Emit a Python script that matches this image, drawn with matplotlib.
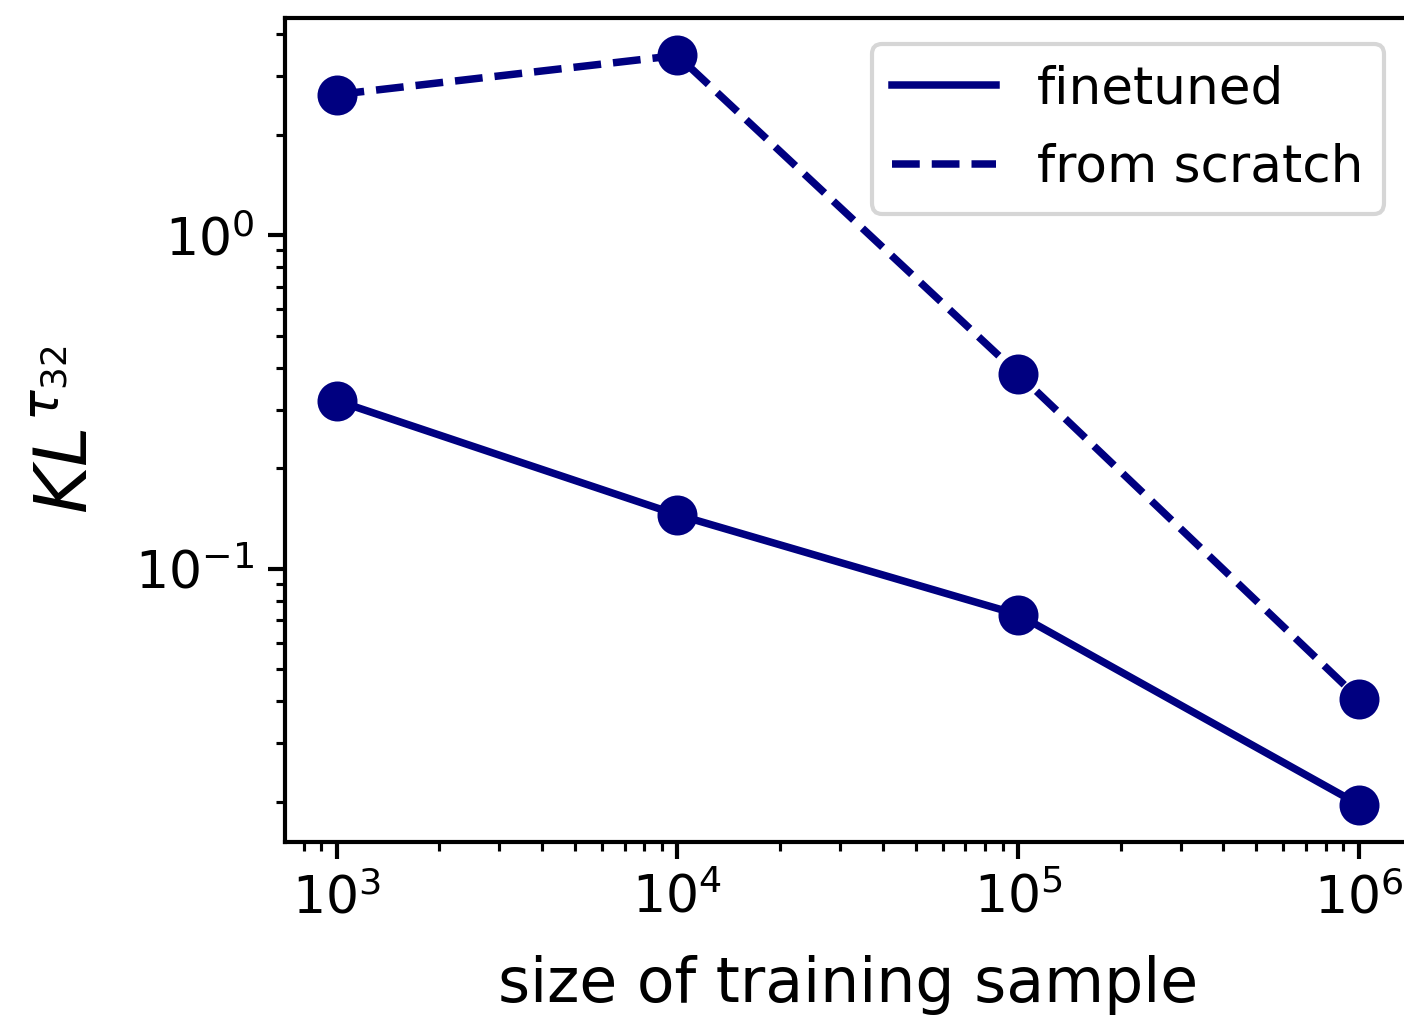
import matplotlib
matplotlib.use("Agg")
import matplotlib.pyplot as plt

# Training-set sizes and KL divergence for the two training regimes
sample_sizes = [1e3, 1e4, 1e5, 1e6]
kl_finetuned = [0.319, 0.145, 0.0728, 0.0196]
kl_scratch = [2.64, 3.46, 0.384, 0.0407]

DPI = 300
fig = plt.figure(figsize=(1404 / DPI, 1021 / DPI), dpi=DPI)
ax = fig.add_axes([0.2033, 0.1753, 0.8010, 0.8071])

color = "navy"
lw = 1.8
ms = 8.6

# lines carry the legend entries, markers are drawn on top without labels
ax.plot(sample_sizes, kl_finetuned, linestyle="-", color=color, linewidth=lw,
        label="finetuned")
ax.plot(sample_sizes, kl_scratch, linestyle="--", color=color, linewidth=lw,
        label="from scratch")
ax.plot(sample_sizes, kl_finetuned, linestyle="none", marker="o",
        markersize=ms, color=color)
ax.plot(sample_sizes, kl_scratch, linestyle="none", marker="o",
        markersize=ms, color=color)

ax.set_xscale("log")
ax.set_yscale("log")

for side in ax.spines.values():
    side.set_linewidth(1.0)

ax.tick_params(which="major", length=4.0, width=1.0, labelsize=12.5)
ax.tick_params(which="minor", length=2.2, width=0.75)

ax.set_xlabel("size of training sample", fontsize=14.8, labelpad=7.5)
ax.set_ylabel(r"$KL^{\tau_{32}}$", fontsize=17.5, labelpad=8.0)

ax.legend(loc="upper right", fontsize=12.4, labelspacing=0.55)

fig.savefig("out.png", dpi=DPI)
